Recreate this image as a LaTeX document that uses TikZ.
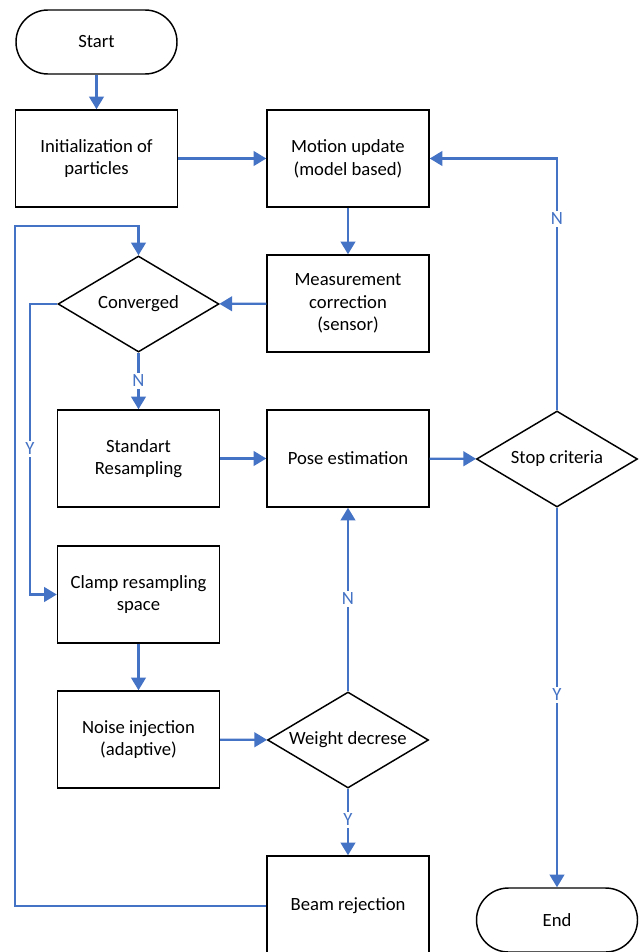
\documentclass[tikz,border=0pt]{standalone}
\usepackage{fontspec}
\setmainfont{Carlito}
\usetikzlibrary{shapes.geometric,arrows.meta}
\definecolor{lineblue}{HTML}{4472C4}
\begin{document}
\begin{tikzpicture}[x=0.75pt,y=-0.75pt,
  every node/.style={font=\fontsize{14}{17}\selectfont, align=center},
  box/.style={draw=black, line width=1.1pt, rectangle, inner sep=0pt, minimum width=121.5pt, minimum height=72.75pt},
  term/.style={draw=black, line width=1.1pt, rectangle, rounded corners=24pt, inner sep=0pt, minimum width=120.75pt, minimum height=48pt},
  dia/.style={draw=black, line width=1.1pt, diamond, shape aspect=1.68, inner sep=0pt, minimum width=120.75pt, minimum height=72pt},
  conn/.style={draw=lineblue, line width=1.6pt, -{Triangle[width=11pt,length=9.5pt]}},
  plain/.style={draw=lineblue, line width=1.6pt},
  lbl/.style={fill=white, text=lineblue, inner sep=1.5pt}]
\useasboundingbox (0,0) rectangle (641,952);
% nodes
\node[term] (start) at (96.5,42) {Start};
\node[box] (init) at (96.5,158.5) {Initialization of\\particles};
\node[box] (motion) at (348,158.5) {Motion update\\(model based)};
\node[box] (meas) at (348,303.5) {Measurement\\correction\\(sensor)};
\node[dia] (conv) at (138.5,304) {Converged};
\node[box] (std) at (138.5,458.5) {Standart\\Resampling};
\node[box] (pose) at (348,458.5) {Pose estimation};
\node[dia] (stop) at (557,459) {Stop criteria};
\node[box] (clamp) at (138.5,594.5) {Clamp resampling\\space};
\node[box] (noise) at (138.5,739.5) {Noise injection\\(adaptive)};
\node[dia] (weight) at (348,740) {Weight decrese};
\node[box, minimum height=75pt] (beam) at (348,906) {Beam rejection};
\node[term] (end) at (557,920) {End};
% lane coordinates
\coordinate (ylane) at (30,304);
\coordinate (loopL) at (15,226);
% connectors
\draw[conn] (start) -- (init);
\draw[conn] (init) -- (motion);
\draw[conn] (motion) -- (meas);
\draw[conn] (meas) -- (conv);
\draw[conn] (conv) -- (std);
\draw[conn] (conv.west) -- (ylane) |- (clamp.west);
\draw[conn] (std) -- (pose);
\draw[conn] (pose) -- (stop);
\draw[conn] (stop.north) |- (motion.east);
\draw[conn] (stop.south) -- (end.north);
\draw[conn] (clamp) -- (noise);
\draw[conn] (noise) -- (weight);
\draw[conn] (weight.north) -- (pose.south);
\draw[conn] (weight.south) -- (beam.north);
\draw[conn] (beam.west) -| (loopL) -| (conv.north);
% labels
\node[lbl] (lN1) at (138.5,381) {N};
\node[lbl] (lY1) at (30,449) {Y};
\node[lbl] (lN2) at (557,219) {N};
\node[lbl] (lY2) at (557,695) {Y};
\node[lbl] (lN3) at (348,599) {N};
\node[lbl] (lY3) at (348,820) {Y};
\end{tikzpicture}
\end{document}
